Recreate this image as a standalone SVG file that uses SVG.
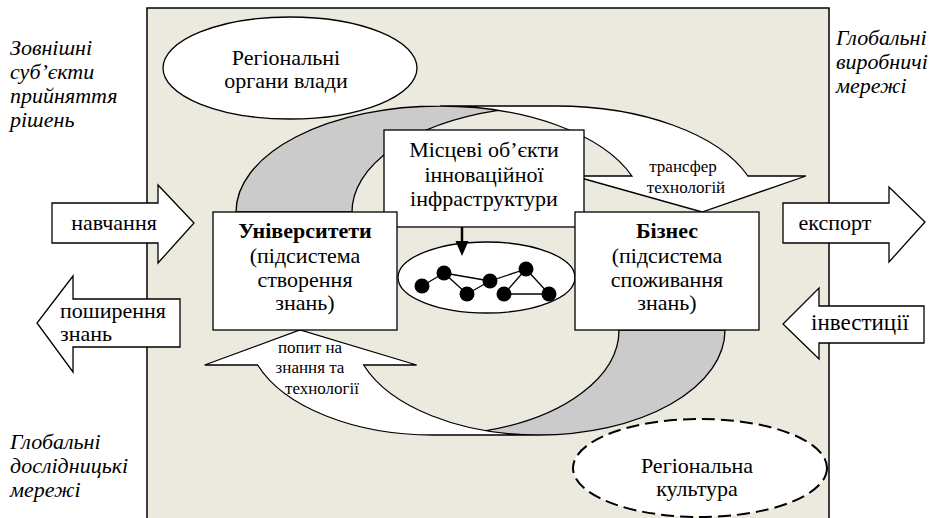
<svg xmlns="http://www.w3.org/2000/svg" width="936" height="518" viewBox="0 0 936 518" font-family="Liberation Serif, DejaVu Serif, serif">
<style>
.t{font-size:22px;text-anchor:middle}
.s{font-size:17px;text-anchor:middle}
.i{font-size:22px;font-style:italic}
.b{font-weight:bold}
.box{fill:#fff;stroke:#000;stroke-width:1.3}
.ln{fill:none;stroke:#000;stroke-width:1.3;stroke-linejoin:miter}
.ar{fill:#fff;stroke:#000;stroke-width:1.3}
.wf{fill:#fff;stroke:none}
.gf{fill:#cbcbcb;stroke:none}
.nd{fill:#000}
.ed{stroke:#000;stroke-width:1.3}
</style>
<rect x="147" y="8" width="682" height="530" fill="#eceadf" stroke="#000" stroke-width="1.5"/>

<g id="outer-labels" font-family="Liberation Serif, serif">
<text class="i" x="10" y="55">Зовнішні</text>
<text class="i" x="10" y="79">суб’єкти</text>
<text class="i" x="10" y="103">прийняття</text>
<text class="i" x="10" y="127">рішень</text>
<text class="i" x="10" y="449">Глобальні</text>
<text class="i" x="10" y="473">дослідницькі</text>
<text class="i" x="10" y="497">мережі</text>
<text class="i" x="836" y="45">Глобальні</text>
<text class="i" x="836" y="69">виробничі</text>
<text class="i" x="836" y="93">мережі</text>
</g>

<g id="regional-authorities" font-family="Liberation Serif, serif">
<ellipse cx="290" cy="68" rx="127" ry="51" fill="#fff" stroke="#000" stroke-width="1.3"/>
<text class="t" x="286" y="65">Регіональні</text>
<text class="t" x="286" y="88">органи влади</text>
</g>

<g id="network">
<ellipse cx="486.5" cy="277.5" rx="88.5" ry="35.5" fill="#fff" stroke="#000" stroke-width="1.3"/>
<line class="ed" x1="422" y1="286" x2="444" y2="273"/>
<line class="ed" x1="444" y1="273" x2="490" y2="281"/>
<line class="ed" x1="444" y1="273" x2="467" y2="294"/>
<line class="ed" x1="467" y1="294" x2="490" y2="281"/>
<line class="ed" x1="490" y1="281" x2="526" y2="269"/>
<line class="ed" x1="526" y1="269" x2="504" y2="294"/>
<line class="ed" x1="504" y1="294" x2="549" y2="294"/>
<line class="ed" x1="526" y1="269" x2="549" y2="294"/>
<circle class="nd" cx="422" cy="286" r="7.5"/>
<circle class="nd" cx="444" cy="273" r="7.5"/>
<circle class="nd" cx="467" cy="294" r="7.5"/>
<circle class="nd" cx="490" cy="281" r="7.5"/>
<circle class="nd" cx="504" cy="294" r="7.5"/>
<circle class="nd" cx="526" cy="269" r="7.5"/>
<circle class="nd" cx="549" cy="294" r="7.5"/>
</g>

<g id="connectors" font-family="Liberation Serif, serif">
<g id="transfer-arrow">
<path class="wf" d="M702,212 L573.9,176 L631.9,176 A204 106 0 0 0 440,106 L556,106 A204 106 0 0 1 747.9,176 L805.9,176 Z"/>
<path class="gf" d="M498,110.37 A204 106 0 0 0 352,212 L236,212 A204 106 0 0 1 498,110.37 Z"/>
<path class="ln" d="M498,110.37 A204 106 0 0 0 352,212 L236,212 A204 106 0 0 1 440,106 L556,106 A204 106 0 0 1 747.9,176 L805.9,176 L702,212 L573.9,176 L631.9,176 A204 106 0 0 0 440,106"/>
<text class="s" x="683" y="172">трансфер</text>
<text class="s" x="686" y="193">технологій</text>
</g>
<g id="demand-arrow">
<path class="wf" d="M300,330 L416.64,365 L363.64,365 A186 105 0 0 0 539,435 L433,435 A186 105 0 0 1 257.64,365 L204.64,365 Z"/>
<path class="gf" d="M486,430.65 A186 105 0 0 0 619,330 L725,330 A186 105 0 0 1 486,430.65 Z"/>
<path class="ln" d="M486,430.65 A186 105 0 0 0 619,330 L725,330 A186 105 0 0 1 539,435 L433,435 A186 105 0 0 1 257.64,365 L204.64,365 L300,330 L416.64,365 L363.64,365 A186 105 0 0 0 539,435"/>
<text class="s" x="310" y="353">попит на</text>
<text class="s" x="310" y="373">знання та</text>
<text class="s" x="322" y="394">технології</text>
</g>
<g id="down-arrow">
<line x1="462" y1="227" x2="462" y2="244" stroke="#000" stroke-width="2.5"/>
<polygon points="455.5,241 468.5,241 462,256" fill="#000"/>
</g>
<g id="learning-arrow">
<polygon class="ar" points="52,203 158,203 158,185 194,223 158,263 158,243 52,243"/>
<text class="t" x="114" y="230">навчання</text>
</g>
<g id="diffusion-arrow">
<polygon class="ar" points="180,299 73,299 73,276 37,323 73,372 73,347 180,347"/>
<text class="t" x="60" y="318" text-anchor="start" style="text-anchor:start">поширення</text>
<text class="t" x="60" y="341" text-anchor="start" style="text-anchor:start">знань</text>
</g>
<g id="export-arrow">
<polygon class="ar" points="783,203 889,203 889,187 925,222 889,262 889,243 783,243"/>
<text class="t" x="835" y="230">експорт</text>
</g>
<g id="investment-arrow">
<polygon class="ar" points="924,306 819,306 819,288 783,324 819,359 819,343 924,343"/>
<text class="t" x="860" y="330" style="font-size:23px">інвестиції</text>
</g>
</g>

<g id="local-infrastructure" font-family="Liberation Serif, serif">
<rect class="box" x="384" y="130" width="200" height="97"/>
<text class="t" x="484" y="157">Місцеві об’єкти</text>
<text class="t" x="484" y="182">інноваційної</text>
<text class="t" x="484" y="206">інфраструктури</text>
</g>

<g id="universities" font-family="Liberation Serif, serif">
<rect class="box" x="213" y="212" width="184" height="118"/>
<text class="t b" x="305" y="238">Університети</text>
<text class="t" x="305" y="263">(підсистема</text>
<text class="t" x="305" y="287">створення</text>
<text class="t" x="305" y="310">знань)</text>
</g>

<g id="business" font-family="Liberation Serif, serif">
<rect class="box" x="575" y="212" width="184" height="118"/>
<text class="t b" x="667" y="238">Бізнес</text>
<text class="t" x="667" y="263">(підсистема</text>
<text class="t" x="667" y="287">споживання</text>
<text class="t" x="667" y="310">знань)</text>
</g>

<g id="regional-culture" font-family="Liberation Serif, serif">
<ellipse cx="700" cy="468" rx="127" ry="49" fill="#fff" stroke="#000" stroke-width="2" stroke-dasharray="13 6"/>
<text class="t" x="697" y="473">Регіональна</text>
<text class="t" x="697" y="496">культура</text>
</g>
</svg>
